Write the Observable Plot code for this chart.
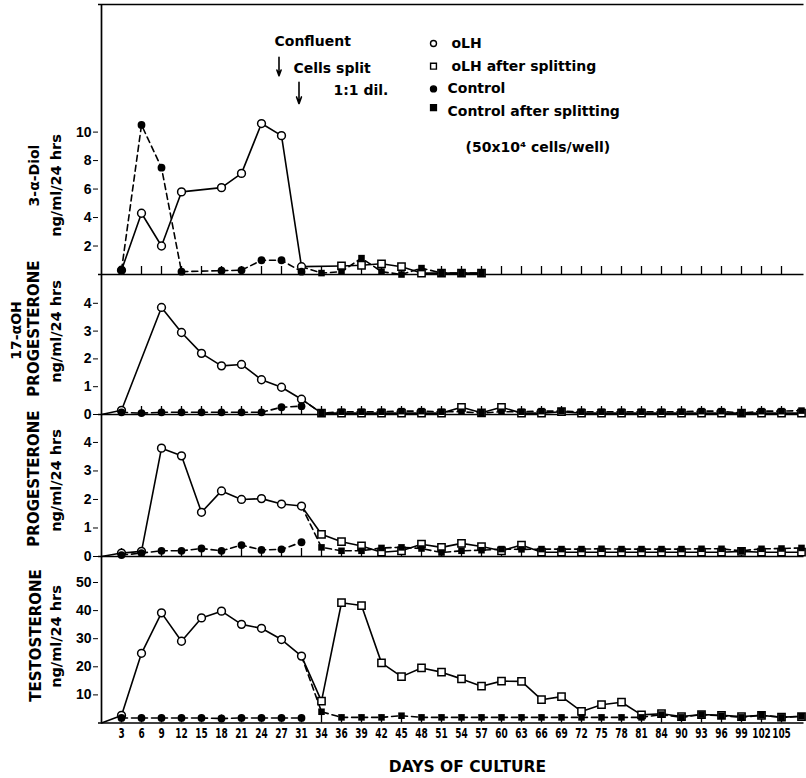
<!DOCTYPE html>
<html><head><meta charset="utf-8">
<script src="https://cdn.jsdelivr.net/npm/d3@7"></script>
<script src="https://cdn.jsdelivr.net/npm/@observablehq/plot@0.6"></script>
<style>
body{margin:0;background:#fff;}
#chart{position:relative;width:806px;height:778px;overflow:hidden;}
#chart svg{position:absolute;left:0;}
</style></head><body><div id="chart"></div>
<script>
// ---- categories / tick labels (days of culture, evenly spaced) ----
const dayTicks = [3,6,9,12,15,18,21,24,27,31,34,36,39,42,45,48,51,54,57,60,63,66,69,72,75,78,81,84,90,93,96,99,102,105];
const days = [0, ...dayTicks, 108];

// ---- Panel 1: 3-α-Diol (ng/ml/24 hrs) ----
const diolOLH = [[3,0.3],[6,4.3],[9,2.0],[12,5.8],[18,6.1],[21,7.1],[24,10.6],[27,9.75],[31,0.55]];
const diolOLHSplit = [[31,0.55],[36,0.6],[39,0.65],[42,0.75],[45,0.55],[48,0.1],[51,0.1],[54,0.1],[57,0.1]];
const diolControl = [[3,0.3],[6,10.5],[9,7.5],[12,0.2],[18,0.27],[21,0.3],[24,1.0],[27,1.0],[31,0.2]];
const diolControlSplit = [[31,0.55],[34,0.1],[36,0.2],[39,1.15],[42,0.2],[45,0.0],[48,0.45],[51,0.1],[54,0.1],[57,0.1]];

// ---- Panel 2: 17-αOH progesterone ----
const ohpOLH = [[0,0],[3,0.15],[9,3.85],[12,2.95],[15,2.2],[18,1.75],[21,1.8],[24,1.25],[27,0.98],[31,0.55]];
const ohpOLHSplit = [[31,0.55],[34,0.05],[36,0.05],[39,0.05],[42,0.05],[45,0.05],[48,0.05],[51,0.05],[54,0.26],[57,0.06],[60,0.26],[63,0.05],[66,0.05],[69,0.1],[72,0.05],[75,0.05],[78,0.05],[81,0.05],[84,0.05],[90,0.05],[93,0.05],[96,0.05],[99,0.05],[102,0.05],[105,0.05],[108,0.05]];
const ohpControl = [[3,0.08],[6,0.05],[9,0.08],[12,0.08],[15,0.08],[18,0.08],[21,0.08],[24,0.08],[27,0.26],[31,0.3]];
const ohpControlSplit = [[31,0.55],[34,0.05],[36,0.1],[39,0.1],[42,0.1],[45,0.12],[48,0.12],[51,0.1],[54,0.1],[57,0.05],[60,0.1],[63,0.1],[66,0.12],[69,0.12],[72,0.1],[75,0.1],[78,0.1],[81,0.1],[84,0.1],[90,0.1],[93,0.12],[96,0.12],[99,0.05],[102,0.12],[105,0.12],[108,0.14]];

// ---- Panel 3: progesterone ----
const progOLH = [[0,0],[3,0.12],[6,0.18],[9,3.8],[12,3.53],[15,1.55],[18,2.3],[21,2.0],[24,2.03],[27,1.84],[31,1.77]];
const progOLHSplit = [[31,1.77],[34,0.78],[36,0.52],[39,0.37],[42,0.15],[45,0.2],[48,0.43],[51,0.32],[54,0.46],[57,0.35],[60,0.2],[63,0.4],[66,0.15],[69,0.15],[72,0.15],[75,0.15],[78,0.15],[81,0.15],[84,0.15],[90,0.15],[93,0.15],[96,0.15],[99,0.18],[102,0.15],[105,0.15],[108,0.15]];
const progControl = [[3,0.05],[6,0.12],[9,0.2],[12,0.2],[15,0.28],[18,0.2],[21,0.4],[24,0.23],[27,0.25],[31,0.5]];
const progControlSplit = [[31,1.77],[34,0.32],[36,0.2],[39,0.2],[42,0.3],[45,0.32],[48,0.28],[51,0.14],[54,0.2],[57,0.22],[60,0.26],[63,0.25],[66,0.26],[69,0.26],[72,0.26],[75,0.27],[78,0.26],[81,0.26],[84,0.26],[90,0.26],[93,0.27],[96,0.27],[99,0.2],[102,0.27],[105,0.28],[108,0.3]];

// ---- Panel 4: testosterone ----
const testoOLH = [[0,0],[3,2.7],[6,24.8],[9,39.2],[12,29.1],[15,37.4],[18,39.8],[21,35.1],[24,33.7],[27,29.7],[31,23.8]];
const testoOLHSplit = [[31,23.8],[34,7.8],[36,42.8],[39,41.8],[42,21.4],[45,16.5],[48,19.6],[51,18.1],[54,15.7],[57,13.1],[60,14.9],[63,14.8],[66,8.3],[69,9.4],[72,4.1],[75,6.5],[78,7.4],[81,2.9],[84,3.3],[90,2.3],[93,3.0],[96,2.7],[99,2.3],[102,2.7],[105,2.1],[108,2.3]];
const testoControl = [[3,1.8],[6,1.8],[9,1.8],[12,1.8],[15,1.8],[18,1.6],[21,1.8],[24,1.8],[27,1.8],[31,1.8]];
const testoControlSplit = [[31,23.8],[34,4.0],[36,2.0],[39,2.0],[42,2.0],[45,2.6],[48,2.0],[51,2.0],[54,2.0],[57,2.0],[60,2.0],[63,2.0],[66,2.0],[69,2.0],[72,2.0],[75,2.0],[78,2.0],[81,2.0],[84,3.0],[90,2.0],[93,3.0],[96,2.6],[99,2.0],[102,2.8],[105,2.0],[108,2.4]];

// ---- legend / annotation texts ----
const legendItems = [
  {label: "oLH", symbol: "circle", fill: "white"},
  {label: "oLH after splitting", symbol: "square", fill: "white"},
  {label: "Control", symbol: "circle", fill: "black"},
  {label: "Control after splitting", symbol: "square", fill: "black"}
];
const events = [{day: 27, label: "Confluent"}, {day: 31, label: "Cells split"}];

// ---- layout ----
const W = 806, ML = 98, MR = 2.5;
const BOLD = "'DejaVu Sans', sans-serif";
const host = document.getElementById("chart");
const X = d => d[0], Y = d => d[1];

function txt(s, px, py, o = {}) {
  return Plot.text([s], {text: d => d, frameAnchor: "top-left", dx: px - ML, dy: py, lineAnchor: "middle", textAnchor: "start",
    fontFamily: BOLD, fontWeight: "bold", fontSize: 14, fill: "black", ...o});
}

function panel(cfg) {
  const {top, height, mt, mb, yMax, yTicks, oLH, oLHSplit, ctrl, ctrlSplit, labels, extra = [], xAxis = false, topLine = false} = cfg;
  const frameH = height - mt - mb;
  const marks = [
    Plot.ruleX(dayTicks, {x: d => d, insetTop: frameH - 8, strokeWidth: 1.3}),
    Plot.ruleY([0], {strokeWidth: 1.7}),
    Plot.ruleX([0], {strokeWidth: 1.7}),
    ...(topLine ? [Plot.ruleY([yMax], {strokeWidth: 1.7})] : []),
    Plot.line(oLH, {x: X, y: Y, strokeWidth: 1.6}),
    Plot.line(oLHSplit, {x: X, y: Y, strokeWidth: 1.6}),
    Plot.line(ctrl, {x: X, y: Y, strokeWidth: 1.6, strokeDasharray: "6,4"}),
    Plot.line(ctrlSplit, {x: X, y: Y, strokeWidth: 1.6, strokeDasharray: "6,4"}),
    Plot.dot(oLH.filter(d => d[0] > 0), {x: X, y: Y, r: 3.9, fill: "white", stroke: "black", strokeWidth: 1.5}),
    Plot.dot(oLHSplit.slice(1), {x: X, y: Y, symbol: "square", r: 4.1, fill: "white", stroke: "black", strokeWidth: 1.5}),
    Plot.dot(ctrl, {x: X, y: Y, r: 3.9, fill: "black"}),
    Plot.dot(ctrlSplit.slice(1), {x: X, y: Y, symbol: "square", r: 3.7, fill: "black"}),
    ...labels.map(l => txt(l.text, l.cx, l.cy - top - mt, {rotate: -90, textAnchor: "middle", fontSize: l.size || 14.5})),
    ...extra
  ];
  const svg = Plot.plot({
    width: W, height, marginLeft: ML, marginRight: MR, marginTop: mt, marginBottom: mb,
    style: {background: "transparent", overflow: "visible", fontFamily: "'Liberation Sans', Arial, sans-serif", fontSize: "14px", fontWeight: "bold", color: "black"},
    x: {type: "point", domain: days, padding: 0, axis: xAxis ? "bottom" : null, tickSize: 0, tickPadding: 5,
        tickFormat: d => dayTicks.includes(d) ? String(d) : "", label: null},
    y: {domain: [0, yMax], ticks: yTicks, tickFormat: d => String(d), tickSize: 5, tickPadding: 2, label: null},
    marks
  });
  svg.style.top = top + "px";
  // condensed tick labels on the day axis
  d3.select(svg).selectAll('g[aria-label^="x-axis"] text').each(function() {
    this.style.fontFamily = BOLD;
    this.style.fontSize = "14px";
    const t = this.getAttribute("transform") || "";
    this.setAttribute("transform", t + " scale(0.64,1)");
  });
  host.appendChild(svg);
  return svg;
}

// Panel 1 extras: annotations + legend
const p1Extra = [
  Plot.arrow(events, {x1: "day", x2: "day", y1: (d, i) => i === 0 ? 15.25 : 13.5, y2: (d, i) => i === 0 ? 13.95 : 12.0, dx: -2.5, strokeWidth: 1.6, headLength: 7, headAngle: 40}),
  txt("Confluent", 274, 41 - 4),
  txt("Cells split", 293, 68.5 - 4),
  txt("1:1 dil.", 333, 90 - 4),
  ...legendItems.flatMap((it, i) => {
    const ry = 43 + i * 22.7;
    return [
      Plot.dot([it], {frameAnchor: "top-left", dx: 433 - ML, dy: ry - 4 - (i === 3 ? 4 : 0), symbol: it.symbol, r: it.symbol === "square" ? 3.3 : 3, fill: it.fill, stroke: "black", strokeWidth: 1.4}),
      txt(it.label, i < 2 ? 451 : 447, ry - 4)
    ];
  }),
  txt("(50x10\u2074 cells/well)", 465, 147 - 4)
];

panel({top: 0, height: 275, mt: 4, mb: 1, yMax: 18.96, yTicks: [2,4,6,8,10], topLine: true,
  oLH: diolOLH, oLHSplit: diolOLHSplit, ctrl: diolControl, ctrlSplit: diolControlSplit,
  labels: [{text: "3-\u03B1-Diol", cx: 34, cy: 175, size: 14}, {text: "ng/ml/24 hrs", cx: 56, cy: 185}],
  extra: p1Extra});

panel({top: 274, height: 141, mt: 0, mb: 1, yMax: 5.036, yTicks: [0,1,2,3,4],
  oLH: ohpOLH, oLHSplit: ohpOLHSplit, ctrl: ohpControl, ctrlSplit: ohpControlSplit,
  labels: [{text: "17-\u03B1OH", cx: 16, cy: 330, size: 14}, {text: "PROGESTERONE", cx: 34, cy: 328, size: 15}, {text: "ng/ml/24 hrs", cx: 56, cy: 331}]});

panel({top: 414, height: 142, mt: 0, mb: 0, yMax: 4.98, yTicks: [0,1,2,3,4],
  oLH: progOLH, oLHSplit: progOLHSplit, ctrl: progControl, ctrlSplit: progControlSplit,
  labels: [{text: "PROGESTERONE", cx: 34, cy: 478, size: 15}, {text: "ng/ml/24 hrs", cx: 56, cy: 480}]});

panel({top: 556, height: 222, mt: 0, mb: 55.5, yMax: 59.25, yTicks: [10,20,30,40,50],
  oLH: testoOLH, oLHSplit: testoOLHSplit, ctrl: testoControl, ctrlSplit: testoControlSplit,
  labels: [{text: "TESTOSTERONE", cx: 36, cy: 635, size: 15}, {text: "ng/ml/24 hrs", cx: 56, cy: 636}],
  extra: [txt("DAYS OF CULTURE", 467, 211, {textAnchor: "middle", fontSize: 15.5})],
  xAxis: true});
</script></body></html>
